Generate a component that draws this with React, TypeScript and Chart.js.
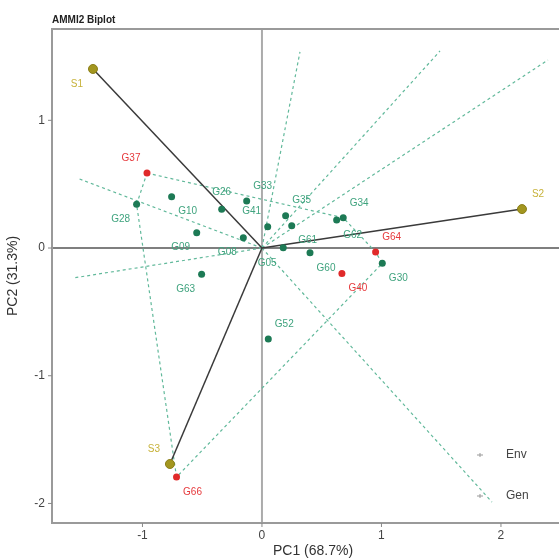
import { useEffect, useRef } from "react";
import { Chart, registerables } from "chart.js";
Chart.register(...registerables);

// ---------- data ----------
const envNames = ["S1", "S2", "S3"];
const envPC1 = [-1.414, 2.176, -0.77];
const envPC2 = [1.402, 0.305, -1.691];
const envLabelPos = ["bl", "tr", "tl"];

const genNames = ["G37", "G64", "G40", "G66", "G28", "G10", "G26", "G33", "G09", "G08", "G41", "G63", "G05", "G35", "G61", "G34", "G62", "G60", "G30", "G52"];
const genPC1 = [-0.962, 0.951, 0.669, -0.715, -1.049, -0.756, -0.337, -0.128, -0.546, -0.156, 0.048, -0.505, 0.178, 0.198, 0.249, 0.68, 0.625, 0.402, 1.007, 0.053];
const genPC2 = [0.587, -0.031, -0.2, -1.793, 0.342, 0.402, 0.303, 0.368, 0.12, 0.081, 0.167, -0.206, 0.002, 0.253, 0.175, 0.237, 0.219, -0.037, -0.12, -0.713];
const genLabelPos = ["tl", "tr", "br", "br", "bl", "br", "t", "tr", "bl", "bl", "tl", "bl", "bl", "tr", "br", "tr", "br", "br", "br", "tr"];
const highlighted = ["G37", "G64", "G40", "G66"];

const polygonOrder = ["G37", "G34", "G64", "G30", "G66", "G28", "G37"];
const rayPC1 = [0.318, 1.49, 2.393, 1.925, -1.582, -1.548];
const rayPC2 = [1.535, 1.543, 1.472, -1.989, -0.235, 0.548];

const xTicks = [-1, 0, 1, 2];
const yTicks = [-2, -1, 0, 1];
const xMinVal = -1.757;
const xUnitPx = 119.5;
const yRange = [-2.153, 1.715];

const title = "AMMI2 Biplot";
const xTitle = "PC1 (68.7%)";
const yTitle = "PC2 (31.3%)";
const legendItems = ["Env", "Gen"];

// ---------- styles ----------
const FONT = "'Liberation Sans', Arial, sans-serif";
const C_GREEN_PT = "#1d7a55";
const C_GREEN_TX = "#3fa37e";
const C_RED_PT = "#e02a2a";
const C_RED_TX = "#e6393c";
const C_ENV_PT = "#a3961f";
const C_ENV_TX = "#c7b23a";
const C_DASH = "#62b99b";

const offsets: Record<string, [number, number]> = {
  tl: [-16, -15],
  tr: [16, -15],
  bl: [-16, 15],
  br: [16, 15],
  t: [0, -17],
};

const overlay = {
  id: "overlay",
  beforeDatasetsDraw(chart: any) {
    const { ctx, chartArea: a, scales } = chart;
    const x0 = scales.x.getPixelForValue(0);
    const y0 = scales.y.getPixelForValue(0);
    const W = chart.width;
    ctx.save();
    ctx.strokeStyle = "#ababab";
    ctx.lineWidth = 2;
    ctx.beginPath();
    ctx.moveTo(x0, a.top);
    ctx.lineTo(x0, a.bottom);
    ctx.stroke();
    ctx.strokeStyle = "#555";
    ctx.lineWidth = 1.5;
    ctx.beginPath();
    ctx.moveTo(a.left, y0);
    ctx.lineTo(W, y0);
    ctx.stroke();
    ctx.strokeStyle = "#9a9a9a";
    ctx.lineWidth = 2;
    ctx.beginPath();
    ctx.moveTo(W, a.top);
    ctx.lineTo(a.left, a.top);
    ctx.lineTo(a.left, a.bottom);
    ctx.lineTo(W, a.bottom);
    ctx.stroke();
    ctx.restore();
  },
  afterDatasetsDraw(chart: any) {
    const { ctx, chartArea: a, scales } = chart;
    const sx = scales.x, sy = scales.y;
    ctx.save();
    ctx.font = `10px ${FONT}`;
    ctx.textAlign = "center";
    ctx.textBaseline = "middle";
    envNames.forEach((n, i) => {
      const [dx, dy] = offsets[envLabelPos[i]];
      ctx.fillStyle = C_ENV_TX;
      ctx.fillText(n, sx.getPixelForValue(envPC1[i]) + dx, sy.getPixelForValue(envPC2[i]) + dy);
    });
    genNames.forEach((n, i) => {
      const [dx, dy] = offsets[genLabelPos[i]];
      ctx.fillStyle = highlighted.includes(n) ? C_RED_TX : C_GREEN_TX;
      ctx.fillText(n, sx.getPixelForValue(genPC1[i]) + dx, sy.getPixelForValue(genPC2[i]) + dy);
    });
    ctx.strokeStyle = "#888";
    ctx.lineWidth = 1;
    ctx.fillStyle = "#444";
    ctx.font = `12px ${FONT}`;
    xTicks.forEach((t) => {
      const px = sx.getPixelForValue(t);
      ctx.beginPath();
      ctx.moveTo(px, a.bottom);
      ctx.lineTo(px, a.bottom + 4);
      ctx.stroke();
      ctx.textAlign = "center";
      ctx.textBaseline = "top";
      ctx.fillText(String(t), px, a.bottom + 7);
    });
    yTicks.forEach((t) => {
      const py = sy.getPixelForValue(t);
      ctx.beginPath();
      ctx.moveTo(a.left, py);
      ctx.lineTo(a.left - 4, py);
      ctx.stroke();
      ctx.textAlign = "right";
      ctx.textBaseline = "middle";
      ctx.fillText(String(t), a.left - 7, py);
    });
    ctx.fillStyle = "#222";
    ctx.font = `bold 10px ${FONT}`;
    ctx.textAlign = "left";
    ctx.textBaseline = "alphabetic";
    ctx.fillText(title, a.left, 23);
    ctx.fillStyle = "#333";
    ctx.font = `14px ${FONT}`;
    ctx.textAlign = "center";
    ctx.textBaseline = "middle";
    ctx.fillText(xTitle, 313, 551);
    ctx.save();
    ctx.translate(13, (a.top + a.bottom) / 2);
    ctx.rotate(-Math.PI / 2);
    ctx.fillText(yTitle, 0, 0);
    ctx.restore();
    ctx.font = `12px ${FONT}`;
    ctx.textAlign = "left";
    legendItems.forEach((item, i) => {
      const ly = 455 + i * 41;
      ctx.strokeStyle = "#999";
      ctx.lineWidth = 1;
      ctx.beginPath();
      ctx.moveTo(477, ly);
      ctx.lineTo(483, ly);
      ctx.moveTo(480, ly - 2);
      ctx.lineTo(480, ly + 2);
      ctx.stroke();
      ctx.fillStyle = "#444";
      ctx.fillText(item, 506, ly);
    });
    ctx.restore();
  },
};

export default function App() {
  const ref = useRef<HTMLCanvasElement | null>(null);
  useEffect(() => {
    document.body.style.margin = "0";
    const canvas = ref.current!;
    const idx = (n: string) => genNames.indexOf(n);
    const datasets: any[] = [];
    rayPC1.forEach((x, i) => {
      datasets.push({
        data: [{ x: 0, y: 0 }, { x, y: rayPC2[i] }],
        showLine: true,
        borderColor: C_DASH,
        borderWidth: 1.2,
        borderDash: [3, 3],
        pointRadius: 0,
        order: 5,
      });
    });
    datasets.push({
      data: polygonOrder.map((n) => ({ x: genPC1[idx(n)], y: genPC2[idx(n)] })),
      showLine: true,
      borderColor: C_DASH,
      borderWidth: 1.2,
      borderDash: [3, 3],
      pointRadius: 0,
      order: 5,
    });
    envNames.forEach((_, i) => {
      datasets.push({
        data: [{ x: 0, y: 0 }, { x: envPC1[i], y: envPC2[i] }],
        showLine: true,
        borderColor: "#3a3a3a",
        borderWidth: 1.5,
        pointRadius: 0,
        order: 4,
      });
    });
    datasets.push({
      data: genNames.map((n, i) => ({ x: genPC1[i], y: genPC2[i] })),
      pointRadius: 3.5,
      pointBackgroundColor: genNames.map((n) => (highlighted.includes(n) ? C_RED_PT : C_GREEN_PT)),
      pointBorderColor: genNames.map((n) => (highlighted.includes(n) ? C_RED_PT : C_GREEN_PT)),
      pointBorderWidth: 0,
      showLine: false,
      order: 1,
    });
    datasets.push({
      data: envNames.map((_, i) => ({ x: envPC1[i], y: envPC2[i] })),
      pointRadius: 4.5,
      pointBackgroundColor: C_ENV_PT,
      pointBorderColor: "#8a7e18",
      pointBorderWidth: 1,
      showLine: false,
      order: 0,
    });

    const fitX = {
      id: "fitX",
      afterLayout(chart: any) {
        const a = chart.chartArea;
        const sxOpts = chart.options.scales.x;
        const span = (a.right - a.left) / xUnitPx;
        if (Math.abs(sxOpts.max - (xMinVal + span)) > 1e-6) {
          sxOpts.min = xMinVal;
          sxOpts.max = xMinVal + span;
          chart.update("none");
        }
      },
    };

    const chart = new Chart(canvas, {
      type: "scatter",
      data: { datasets },
      options: {
        animation: false,
        responsive: false,
        devicePixelRatio: 1,
        layout: { padding: { left: 52, top: 29, right: 0, bottom: 36 } },
        scales: {
          x: { type: "linear", min: xMinVal, max: 2.45, display: false },
          y: { type: "linear", min: yRange[0], max: yRange[1], display: false },
        },
        plugins: { legend: { display: false }, tooltip: { enabled: false } },
      },
      plugins: [overlay, fitX],
    });
    return () => chart.destroy();
  }, []);
  return <canvas ref={ref} width={559} height={559} style={{ display: "block" }} />;
}
